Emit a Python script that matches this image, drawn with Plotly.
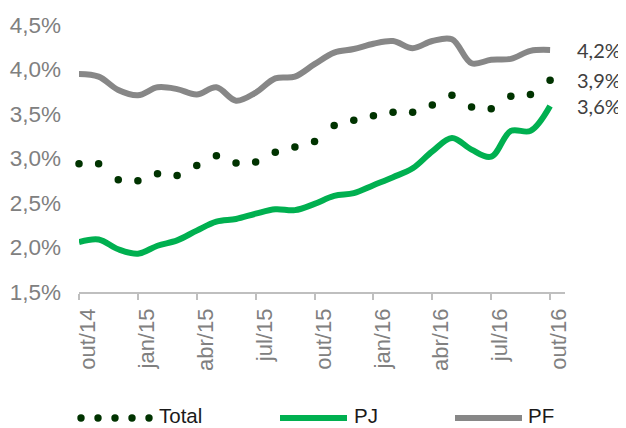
import plotly.graph_objects as go

months = ["out/14", "nov/14", "dez/14", "jan/15", "fev/15", "mar/15", "abr/15",
          "mai/15", "jun/15", "jul/15", "ago/15", "set/15", "out/15", "nov/15",
          "dez/15", "jan/16", "fev/16", "mar/16", "abr/16", "mai/16", "jun/16",
          "jul/16", "ago/16", "set/16", "out/16"]

total = [2.94, 2.94, 2.76, 2.75, 2.83, 2.81, 2.92, 3.03, 2.95, 2.96, 3.07, 3.13,
         3.19, 3.37, 3.43, 3.48, 3.52, 3.52, 3.60, 3.71, 3.58, 3.56, 3.70, 3.72, 3.88]
pj = [2.06, 2.09, 1.98, 1.93, 2.02, 2.08, 2.19, 2.29, 2.32, 2.38, 2.43, 2.42,
      2.49, 2.58, 2.61, 2.70, 2.79, 2.89, 3.08, 3.23, 3.10, 3.02, 3.31, 3.31, 3.59]
pf = [3.95, 3.92, 3.77, 3.71, 3.80, 3.78, 3.72, 3.80, 3.65, 3.74, 3.90, 3.92,
      4.06, 4.19, 4.23, 4.29, 4.32, 4.24, 4.32, 4.34, 4.07, 4.11, 4.12, 4.21, 4.22]

x_tick_labels = months[::3]
y_tick_values = [1.5, 2.0, 2.5, 3.0, 3.5, 4.0, 4.5]
y_tick_labels = [f"{v:.1f}".replace(".", ",") + "%" for v in y_tick_values]

C_TOTAL = "#003300"
C_PJ = "#00b050"
C_PF = "#878787"
FONT = "Liberation Sans, Arial, sans-serif"

# the page body has an 8px margin; the figure is sized so it ends at 626x428
OFF = 8
W, H = 626 - OFF, 428 - OFF
ML, MR, MT, MB = 79 - OFF, 61, 25 - OFF, 136
PW, PH = W - ML - MR, H - MT - MB
PLOT_LEFT, PLOT_BOTTOM = 79, 292  # window pixels


def px(xp):
    return (xp - PLOT_LEFT) / PW


def py(yp):
    return (PLOT_BOTTOM - yp) / PH


fig = go.Figure()
fig.add_trace(go.Scatter(x=months, y=pf, mode="lines", name="PF",
                         line=dict(color=C_PF, width=6, shape="spline"),
                         hoverinfo="skip"))
fig.add_trace(go.Scatter(x=months, y=pj, mode="lines", name="PJ",
                         line=dict(color=C_PJ, width=6, shape="spline"),
                         hoverinfo="skip"))
fig.add_trace(go.Scatter(x=months, y=total, mode="markers", name="Total",
                         marker=dict(color=C_TOTAL, size=7.5), cliponaxis=False,
                         hoverinfo="skip"))

# end labels
for series in (pf, total, pj):
    fig.add_annotation(x=months[-1], y=series[-1], xref="x", yref="y",
                       text=f"{series[-1]:.1f}".replace(".", ",") + "%",
                       showarrow=False, xanchor="left", yanchor="middle",
                       xshift=25, font=dict(family="Lato, sans-serif", size=20, color="#404040"))

# manual legend
shapes = []
ls = py(418)
lt = py(415)
for xp in (81, 98, 115, 132, 149):
    shapes.append(dict(type="circle", xref="paper", yref="paper",
                       xsizemode="pixel", ysizemode="pixel",
                       xanchor=px(xp), yanchor=ls, x0=-3.7, x1=3.7, y0=-3.7, y1=3.7,
                       fillcolor=C_TOTAL, line=dict(width=0)))
shapes.append(dict(type="line", xref="paper", yref="paper", x0=px(280), x1=px(347),
                   y0=ls, y1=ls, line=dict(color=C_PJ, width=6)))
shapes.append(dict(type="line", xref="paper", yref="paper", x0=px(455), x1=px(522),
                   y0=ls, y1=ls, line=dict(color=C_PF, width=6)))
for txt, xp in (("Total", 157), ("PJ", 352), ("PF", 526)):
    fig.add_annotation(x=px(xp), y=lt, xref="paper", yref="paper", text=txt,
                       showarrow=False, xanchor="left", yanchor="middle",
                       font=dict(family=FONT, size=20.5, color="#1a1a1a"))

fig.update_layout(
    width=W, height=H,
    margin=dict(l=ML, r=MR, t=MT, b=MB, pad=0, autoexpand=False),
    paper_bgcolor="white", plot_bgcolor="white",
    showlegend=False,
    shapes=shapes,
    xaxis=dict(type="category", range=[0, 24.76], showline=True, linecolor="#bfbfbf",
               linewidth=1.5, ticks="outside", ticklen=6, tickcolor="#bfbfbf",
               tickwidth=1.5, tickvals=x_tick_labels, ticktext=x_tick_labels,
               tickangle=-90, ticklabelshift=9, showgrid=False, zeroline=False,
               automargin=False,
               tickfont=dict(family=FONT, size=22, color="#808080")),
    yaxis=dict(range=[1.5, 4.5], showline=False, showgrid=False, zeroline=False,
               ticks="", tickvals=y_tick_values, ticktext=y_tick_labels,
               ticklabelstandoff=17, automargin=False,
               tickfont=dict(family=FONT, size=22.5, color="#808080")),
)

fig.write_html("out.html")
